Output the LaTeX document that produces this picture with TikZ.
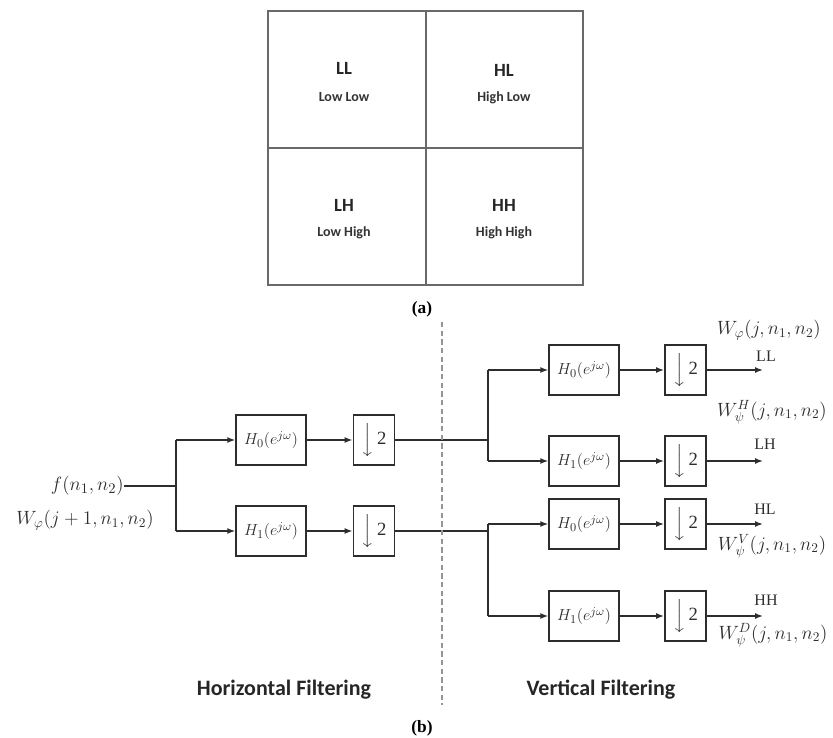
\documentclass[tikz,border=0pt]{standalone}
\usepackage{amsmath, amssymb}
\usepackage{fontspec}
\setmainfont{Liberation Serif}
\newfontfamily\calfont{Carlito}
\usepackage{xcolor}
\usepackage{tikz}
\usetikzlibrary{arrows.meta, positioning}
\definecolor{InkGray}{RGB}{45, 45, 45}
\definecolor{GridGray}{RGB}{105, 105, 105}
\definecolor{DashGray}{RGB}{150, 150, 150}

\begin{document}
\begin{tikzpicture}[
        x=0.75pt, y=-0.75pt,
        filt/.style = {draw=InkGray, line width=1.1pt, minimum width=52.5pt, minimum height=37.5pt, inner sep=0pt, text=InkGray, font=\fontsize{12.5}{14}\selectfont},
        dsmp/.style = {filt, minimum width=31pt, font=\fontsize{14}{16}\selectfont},
        line/.style = {draw=InkGray, line width=1.1pt},
        arr/.style = {line, -{Latex[length=6pt, width=4.5pt]}},
        quad/.style = {inner sep=0pt, font=\calfont\bfseries\fontsize{14}{16}\selectfont, text=black!85},
        quadsub/.style = {inner sep=0pt, font=\calfont\bfseries\fontsize{10.5}{12}\selectfont, text=black!80},
        sig/.style = {inner sep=0pt, text=InkGray, font=\fontsize{14.5}{17}\selectfont},
        band/.style = {inner sep=0pt, text=InkGray, font=\fontsize{12}{14}\selectfont},
        capt/.style = {inner sep=0pt, font=\bfseries\fontsize{13}{15}\selectfont},
        stage/.style = {inner sep=0pt, font=\calfont\bfseries\fontsize{16.5}{19}\selectfont, text=black!85}
    ]
        \useasboundingbox (0,0) rectangle (833,738);

        % (a) sub-band layout
        \draw [GridGray, line width=1.5pt] (268,11) rectangle (583,285);
        \draw [GridGray, line width=0.8pt] (426,11) -- (426,285);
        \draw [GridGray, line width=0.8pt] (268,148) -- (583,148);
        \node (ll) [quad] at (344,68) {LL};
        \node (llsub) [quadsub] at (344,97) {Low Low};
        \node (hl) [quad] at (504,70) {HL};
        \node (hlsub) [quadsub] at (504,98) {High Low};
        \node (lh) [quad] at (344,205) {LH};
        \node (lhsub) [quadsub] at (344,233) {Low High};
        \node (hh) [quad] at (504,205) {HH};
        \node (hhsub) [quadsub] at (504,233) {High High};
        \node (capa) [capt] at (422,309) {(a)};

        % (b) Horizontal filtering
        \node (inf) [sig, anchor=east, font=\fontsize{15.5}{18}\selectfont] at (124,486) {$f(n_1,n_2)$};
        \node (inw) [sig] at (85,520) {$W_\varphi(j+1,n_1,n_2)$};
        \coordinate (split0) at (176,486);
        \coordinate (split0a) at (176,440);
        \coordinate (split0b) at (176,531);

        \node (hlo) [filt] at (271,440) {$H_0(e^{j\omega})$};
        \node (hhi) [filt] at (271,531) {$H_1(e^{j\omega})$};
        \node (dlo) [dsmp] at (374,440) {$\Big\downarrow$\,2};
        \node (dhi) [dsmp] at (374,531) {$\Big\downarrow$\,2};

        \draw [line] (inf.east) -- (split0);
        \draw [line] (split0a) -- (split0b);
        \draw [arr] (split0a) -- (hlo);
        \draw [arr] (split0b) -- (hhi);
        \draw [arr] (hlo) -- (dlo);
        \draw [arr] (hhi) -- (dhi);

        % Vertical filtering
        \coordinate (split1) at (488,440);
        \coordinate (split1a) at (488,370);
        \coordinate (split1b) at (488,461);
        \coordinate (split2) at (488,531);
        \coordinate (split2a) at (488,524);
        \coordinate (split2b) at (488,616);
        \draw [line] (dlo.east) -- (split1);
        \draw [line] (dhi.east) -- (split2);
        \draw [line] (split1a) -- (split1b);
        \draw [line] (split2a) -- (split2b);

        \node (vll) [filt] at (584,370) {$H_0(e^{j\omega})$};
        \node (vlh) [filt] at (584,461) {$H_1(e^{j\omega})$};
        \node (vhl) [filt] at (584,524) {$H_0(e^{j\omega})$};
        \node (vhh) [filt] at (584,616) {$H_1(e^{j\omega})$};
        \node (dll) [dsmp] at (685.5,370) {$\Big\downarrow$\,2};
        \node (dlh) [dsmp] at (685.5,461) {$\Big\downarrow$\,2};
        \node (dhl) [dsmp] at (685.5,524) {$\Big\downarrow$\,2};
        \node (dhh) [dsmp] at (685.5,616) {$\Big\downarrow$\,2};

        \draw [arr] (split1a) -- (vll);
        \draw [arr] (split1b) -- (vlh);
        \draw [arr] (split2a) -- (vhl);
        \draw [arr] (split2b) -- (vhh);
        \draw [arr] (vll) -- (dll);
        \draw [arr] (vlh) -- (dlh);
        \draw [arr] (vhl) -- (dhl);
        \draw [arr] (vhh) -- (dhh);

        % Outputs
        \coordinate (outll) at (763,370);
        \coordinate (outlh) at (763,461);
        \coordinate (outhl) at (763,524);
        \coordinate (outhh) at (763,616);
        \draw [arr] (dll) -- (outll);
        \draw [arr] (dlh) -- (outlh);
        \draw [arr] (dhl) -- (outhl);
        \draw [arr] (dhh) -- (outhh);

        \node (wll) [sig] at (769,330) {$W_\varphi(j,n_1,n_2)$};
        \node (bll) [band] at (766,356) {LL};
        \node (wlh) [sig] at (772,412) {$W_\psi^H(j,n_1,n_2)$};
        \node (blh) [band] at (765,444) {LH};
        \node (bhl) [band] at (765,509) {HL};
        \node (whl) [sig] at (772,546) {$W_\psi^V(j,n_1,n_2)$};
        \node (bhh) [band] at (766,600) {HH};
        \node (whh) [sig] at (773,635) {$W_\psi^D(j,n_1,n_2)$};

        % Divider and stage names
        \draw [DashGray, line width=1.4pt, dash pattern=on 4pt off 2.5pt] (442,322) -- (442,705);
        \node (hfilt) [stage] at (284,690) {Horizontal Filtering};
        \node (vfilt) [stage] at (601,690) {Vertical Filtering};
        \node (capb) [capt] at (422,728) {(b)};

    \end{tikzpicture}
\end{document}
